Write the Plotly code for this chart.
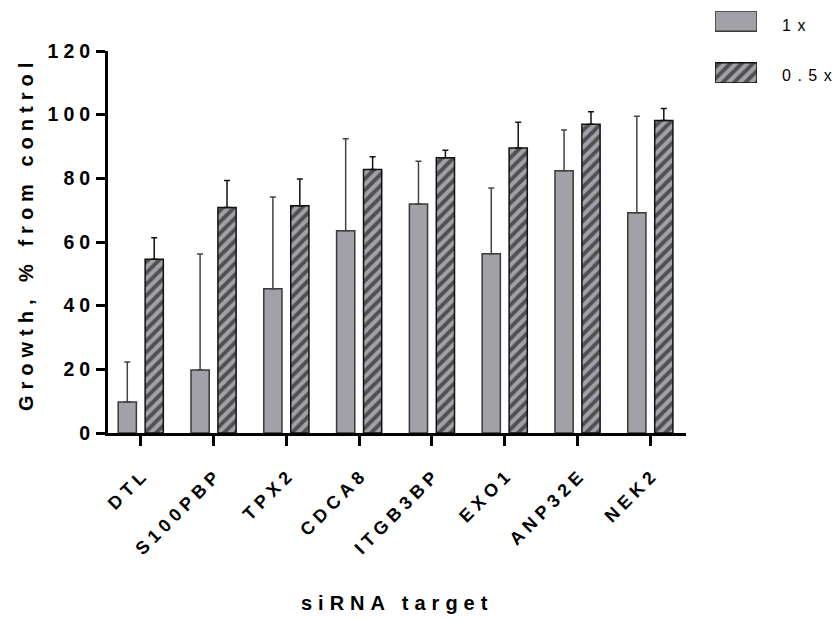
import plotly.graph_objects as go

W, H = 838, 621

categories = ["DTL", "S100PBP", "TPX2", "CDCA8", "ITGB3BP", "EXO1", "ANP32E", "NEK2"]
vals_1x = [9.7, 19.8, 45.3, 63.5, 71.9, 56.3, 82.4, 69.2]
err_1x = [12.6, 36.4, 28.8, 28.9, 13.5, 20.7, 12.8, 30.3]
vals_05x = [54.6, 70.8, 71.4, 82.8, 86.5, 89.5, 97.0, 98.2]
err_05x = [6.7, 8.5, 8.4, 4.0, 2.3, 8.1, 3.9, 3.7]
y_ticks = [0, 20, 40, 60, 80, 100, 120]
series_names = ["1x", "0.5x"]

GRAY = "#a1a1a7"
FONT = "Liberation Sans, Arial, sans-serif"


def spaced(t, ls, bold=True):
    # letter-spacing on all but the last character so there is no trailing gap
    if len(t) > 1:
        s = f'<span style="letter-spacing:{ls}px">{t[:-1]}</span>{t[-1]}'
    else:
        s = t
    return f"<b>{s}</b>" if bold else s


# plot area in pixels
L, R, T, B = 108, 686, 51, 433

PATTERN = dict(shape="/", fgcolor="#000000", bgcolor=GRAY, size=8, solidity=0.48)

fig = go.Figure()

fig.add_trace(go.Bar(
    x=categories, y=vals_1x, name=series_names[0],
    width=0.25, offset=-0.31,
    marker=dict(color=GRAY, line=dict(color="#3a3a3a", width=1.5)),
    error_y=dict(type="data", array=err_1x, arrayminus=[0] * len(err_1x), symmetric=False,
                 color="#444444", thickness=1.5, width=3),
    showlegend=False,
))
fig.add_trace(go.Bar(
    x=categories, y=vals_05x, name=series_names[1],
    width=0.25, offset=0.06,
    marker=dict(color=GRAY, line=dict(color="#111111", width=1.5), pattern=PATTERN),
    error_y=dict(type="data", array=err_05x, arrayminus=[0] * len(err_05x), symmetric=False,
                 color="#111111", thickness=1.5, width=3),
    showlegend=False,
))

# legend swatches on an auxiliary axis
fig.add_trace(go.Bar(
    x=[1], y=[1], orientation="h", width=0.39, xaxis="x2", yaxis="y2",
    marker=dict(color=GRAY, line=dict(color="#3a3a3a", width=1.5)), showlegend=False,
))
fig.add_trace(go.Bar(
    x=[1], y=[0], orientation="h", width=0.39, xaxis="x2", yaxis="y2",
    marker=dict(color=GRAY, line=dict(color="#111111", width=1.5), pattern=PATTERN),
    showlegend=False,
))

fig.update_layout(
    width=W, height=H,
    margin=dict(l=0, r=0, t=0, b=0, autoexpand=False),
    paper_bgcolor="white", plot_bgcolor="white",
    barmode="overlay",
    font=dict(family=FONT, color="#000000"),
    xaxis=dict(
        domain=[L / W, R / W],
        range=[-0.45, 7.49],
        type="category",
        tickmode="array", tickvals=categories,
        ticktext=[spaced(c, 5) for c in categories],
        tickangle=-45,
        tickfont=dict(size=18, family=FONT, color="#000"),
        ticklabelstandoff=14,
        showline=True, linecolor="#000", linewidth=3,
        ticks="outside", ticklen=10, tickwidth=3, tickcolor="#000",
        showgrid=False, zeroline=False,
        anchor="y",
    ),
    yaxis=dict(
        domain=[1 - B / H, 1 - T / H],
        range=[0, 120],
        tickmode="array", tickvals=y_ticks,
        ticktext=[spaced(str(v), 5) for v in y_ticks],
        tickfont=dict(size=19.5, family=FONT, color="#000"),
        showline=True, linecolor="#000", linewidth=3,
        ticks="outside", ticklen=9, tickwidth=3, tickcolor="#000",
        ticklabelstandoff=2,
        showgrid=False, zeroline=False,
        anchor="x",
    ),
    xaxis2=dict(domain=[715 / W, 757 / W], range=[0, 1], visible=False, anchor="y2"),
    yaxis2=dict(domain=[1 - 83 / H, 1 - 11 / H], range=[-0.195, 1.195], visible=False, anchor="x2"),
)

annotations = [
    dict(text=spaced("Growth, % from control", 6), x=26 / W, y=1 - 237 / H, textangle=-90,
         font=dict(size=20, family=FONT, color="#000")),
    dict(text=spaced("siRNA target", 6), x=394 / W, y=1 - 603 / H,
         font=dict(size=20, family=FONT, color="#000")),
    dict(text=spaced(series_names[0], 6.5, bold=False), x=780 / W, y=1 - 26 / H, xanchor="left",
         font=dict(size=16, family=FONT, color="#000")),
    dict(text=spaced(series_names[1], 6.5, bold=False), x=780 / W, y=1 - 76 / H, xanchor="left",
         font=dict(size=16, family=FONT, color="#000")),
]
for a in annotations:
    a.update(xref="paper", yref="paper", showarrow=False)
    a.setdefault("xanchor", "center")
    a.setdefault("yanchor", "middle")
fig.update_layout(annotations=annotations)

fig.write_html("out.html")
